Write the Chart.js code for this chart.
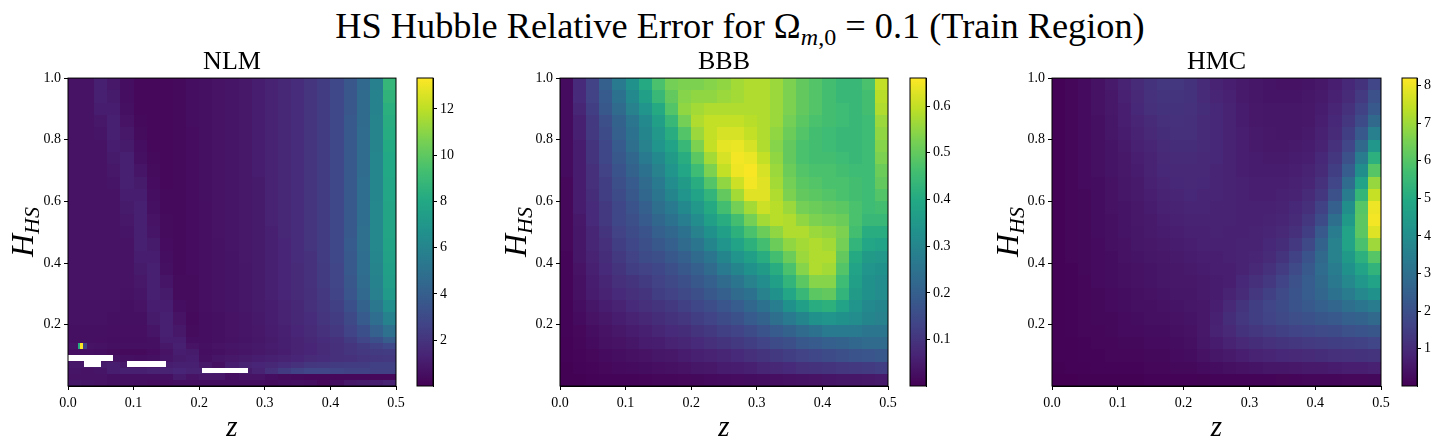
<!DOCTYPE html>
<html>
<head>
<meta charset="utf-8">
<script src="https://cdn.jsdelivr.net/npm/chart.js@4"></script>
<style>
  body { margin: 0; background: #fff; }
  #page { position: relative; width: 1443px; height: 448px; overflow: hidden; font-family: "Liberation Serif", serif; color: #000; }
  canvas { position: absolute; }
  #suptitle { position: absolute; left: 0; width: 1480px; top: 4px; text-align: center; font-size: 36.3px; line-height: 44px; white-space: nowrap; }
  #suptitle sub { font-size: 24px; line-height: 0; vertical-align: -7px; }
  .ylabel { position: absolute; top: 232px; font-size: 32px; line-height: 32px; font-style: italic; white-space: nowrap; transform: translate(-50%, -50%) rotate(-90deg); }
  .ylabel sub { font-size: 22px; line-height: 0; vertical-align: -6px; }
</style>
</head>
<body>
<div id="page">
  <div id="suptitle">HS Hubble Relative Error for &Omega;<sub><i>m</i>,0</sub> = 0.1 (Train Region)</div>
  <canvas id="nlm-map"></canvas><canvas id="nlm-bar"></canvas>
  <canvas id="bbb-map"></canvas><canvas id="bbb-bar"></canvas>
  <canvas id="hmc-map"></canvas><canvas id="hmc-bar"></canvas>
  <div class="ylabel" style="left:22px"><span>H</span><sub>HS</sub></div>
  <div class="ylabel" style="left:515px"><span>H</span><sub>HS</sub></div>
  <div class="ylabel" style="left:1007px"><span>H</span><sub>HS</sub></div>
</div>
<script>
// Axis ticks
var zTicks = [0.0, 0.1, 0.2, 0.3, 0.4, 0.5];
var hTicks = [0.2, 0.4, 0.6, 0.8, 1.0];
var nlmBarTicks = [2, 4, 6, 8, 10, 12];
var bbbBarTicks = [0.1, 0.2, 0.3, 0.4, 0.5, 0.6];
var hmcBarTicks = [1, 2, 3, 4, 5, 6, 7, 8];

// Cell edges in data units
var zEdges = [0, .02, .04, .06, .08, .10, .12, .14, .16, .18, .20, .22, .24, .26, .28, .30, .32, .34, .36, .38, .40, .42, .44, .46, .48, .50];
var hEdges = [0, .04, .08, .12, .16, .20, .24, .28, .32, .36, .40, .44, .48, .52, .56, .60, .64, .68, .72, .76, .80, .84, .88, .92, .96, 1];
var nlmEdges = [0, .02, .04, .06, .08, .10, .12, .14, .16, .20, .24, .28, .32, .36, .40, .44, .48, .52, .56, .60, .64, .68, .72, .76, .80, .84, .88, .92, .96, 1];

// NLM error, rows listed from the top of the plot down
var nlmValues = [
  [.7,.7,1.2,.9,.5,.3,.3,.3,.35,.5,.6,.7,.8,.9,1.1,1.3,1.5,1.7,2.0,2.4,2.9,3.6,4.5,5.8,8.8],
  [.7,.7,1.2,1.0,.5,.3,.3,.3,.35,.5,.6,.7,.8,.9,1.1,1.3,1.5,1.7,2.0,2.4,2.9,3.6,4.6,5.9,8.6],
  [.7,.7,1.1,1.1,.6,.3,.3,.3,.35,.5,.6,.7,.8,.9,1.1,1.3,1.5,1.7,2.0,2.4,2.9,3.6,4.6,5.9,8.4],
  [.7,.7,.9,1.2,.7,.35,.3,.3,.35,.5,.6,.7,.8,.9,1.1,1.3,1.5,1.7,2.0,2.4,2.9,3.7,4.6,6.0,8.3],
  [.7,.7,.8,1.2,.9,.4,.3,.3,.35,.45,.6,.7,.8,.9,1.1,1.3,1.5,1.7,2.0,2.4,2.9,3.7,4.7,6.0,8.2],
  [.7,.7,.7,1.1,1.0,.5,.3,.3,.35,.45,.6,.7,.8,.9,1.1,1.3,1.5,1.7,2.0,2.4,2.9,3.7,4.7,6.0,8.1],
  [.7,.7,.7,1.0,1.2,.6,.35,.3,.35,.45,.6,.7,.8,.9,1.1,1.3,1.5,1.7,2.0,2.4,2.9,3.7,4.7,6.1,8.0],
  [.7,.7,.7,.9,1.2,.8,.4,.3,.35,.45,.6,.7,.8,.9,1.1,1.3,1.5,1.7,2.0,2.4,2.9,3.7,4.7,6.1,8.0],
  [.7,.7,.7,.8,1.2,1.0,.45,.3,.35,.45,.6,.7,.8,.9,1.0,1.3,1.5,1.7,2.0,2.4,2.9,3.7,4.8,6.1,7.9],
  [.7,.7,.7,.7,1.1,1.1,.5,.35,.35,.45,.6,.7,.8,.9,1.0,1.3,1.5,1.7,2.0,2.4,2.9,3.7,4.8,6.1,7.9],
  [.7,.7,.7,.7,1.0,1.2,.6,.35,.35,.45,.55,.7,.8,.9,1.0,1.3,1.5,1.7,2.0,2.4,2.9,3.7,4.8,6.2,7.8],
  [.7,.7,.7,.7,.9,1.2,.7,.4,.35,.45,.55,.7,.8,.9,1.0,1.3,1.5,1.7,2.0,2.4,2.9,3.7,4.8,6.2,7.8],
  [.7,.7,.7,.7,.8,1.2,.8,.4,.35,.45,.55,.7,.8,.9,1.0,1.2,1.5,1.7,2.0,2.4,2.9,3.7,4.9,6.2,7.8],
  [.7,.7,.7,.7,.7,1.2,1.0,.45,.35,.45,.55,.65,.8,.9,1.0,1.2,1.4,1.7,2.0,2.4,2.9,3.8,4.9,6.2,7.7],
  [.7,.7,.7,.7,.7,1.1,1.1,.5,.35,.45,.55,.65,.75,.9,1.0,1.2,1.4,1.7,1.9,2.4,2.9,3.7,4.8,6.1,7.6],
  [.7,.7,.7,.7,.7,1.0,1.2,.6,.35,.45,.55,.65,.75,.85,1.0,1.2,1.4,1.6,1.9,2.3,2.8,3.7,4.8,6.0,7.5],
  [.7,.7,.7,.7,.7,.9,1.2,.8,.4,.4,.55,.65,.75,.85,1.0,1.2,1.4,1.6,1.9,2.3,2.8,3.6,4.7,5.9,7.4],
  [.7,.7,.7,.7,.65,.8,1.2,1.0,.4,.4,.55,.65,.75,.85,1.0,1.2,1.4,1.6,1.8,2.2,2.7,3.5,4.5,5.7,7.2],
  [.65,.65,.65,.65,.6,.7,1.1,1.1,.5,.4,.55,.65,.75,.85,1.0,1.1,1.3,1.5,1.8,2.1,2.5,3.3,4.2,5.3,6.6],
  [.65,.65,.65,.6,.6,.6,1.0,1.2,.7,.35,.5,.6,.7,.8,.95,1.1,1.3,1.5,1.7,2.0,2.4,3.0,3.8,4.8,5.9],
  [.6,.6,.6,.55,.55,.55,.8,1.2,.9,.4,.5,.6,.7,.8,.9,1.05,1.2,1.4,1.6,1.9,2.2,2.7,3.3,4.1,5.0],
  [.6,.6,.55,.5,.5,.5,.6,1.1,1.1,.5,.5,.6,.65,.75,.85,1.0,1.15,1.3,1.5,1.7,1.9,2.3,2.8,3.3,3.9],
  [.7,.7,.65,.6,.6,.6,.6,.9,1.2,.7,.6,.7,.8,.85,.95,1.05,1.15,1.3,1.4,1.6,1.8,2.0,2.3,2.6,2.9],
  [.55,.55,.5,.4,.35,.35,.45,.7,1.1,1.0,.5,.6,.7,.8,.9,1.0,1.1,1.3,1.4,1.6,1.8,2.0,2.2,2.3,2.4],
  [.8,.8,.75,.65,.6,.5,.6,.8,1.0,1.1,.6,.8,.9,1.0,1.1,1.2,1.3,1.4,1.6,1.7,1.8,1.9,2.0,2.1,2.2],
  [.9,.9,1.0,1.1,.9,.8,.9,1.1,1.2,1.2,.9,.6,1.1,1.3,1.4,1.5,1.7,1.9,2.1,2.2,2.3,2.4,2.4,2.5,2.5],
  [.8,.7,.8,1.1,1.2,1.2,1.3,1.3,1.4,1.3,1.3,1.1,.5,1.0,1.3,1.8,2.3,2.6,2.8,2.8,2.7,2.6,2.6,2.5,2.5],
  [.7,.7,.7,.6,.6,.6,.6,.6,1.0,.7,.9,.9,.6,.7,.7,.5,.4,.35,.3,.3,.3,.3,.3,.3,.3],
  [.9,.8,.7,.6,.6,.5,.45,.45,.5,.5,.5,.5,.5,.5,.5,.4,.5,.6,.5,.3,.5,.9,1.0,1.1,1.3]
];

// Small extra cells in the NLM lower left: left edge, right edge, bottom, top, value
var nlmPatchZ0 = [.0145, .019, .0235];
var nlmPatchZ1 = [.019, .0235, .0285];
var nlmPatchH0 = [.12, .12, .12];
var nlmPatchH1 = [.14, .14, .14];
var nlmPatchV = [8.2, 13.3, 2.5];

// Undefined (white) stretches of the NLM map
var nlmGapZ0 = [0, .024, .09, .205];
var nlmGapZ1 = [.069, .05, .15, .275];
var nlmGapH0 = [.082, .062, .062, .042];
var nlmGapH1 = [.102, .082, .082, .06];

// BBB error, rows listed from the top of the plot down
var bbbValues = [
  [.02,.08,.13,.20,.27,.33,.40,.47,.52,.53,.53,.54,.55,.57,.58,.58,.56,.53,.50,.48,.46,.44,.44,.47,.60],
  [.02,.08,.13,.19,.25,.31,.37,.44,.50,.54,.55,.55,.56,.57,.58,.58,.56,.53,.50,.48,.46,.44,.44,.46,.59],
  [.02,.07,.12,.18,.23,.29,.34,.40,.48,.55,.57,.58,.58,.58,.58,.58,.56,.53,.50,.48,.46,.45,.44,.46,.58],
  [.02,.06,.11,.16,.21,.26,.31,.37,.44,.52,.58,.60,.60,.60,.59,.58,.56,.52,.49,.47,.46,.45,.44,.45,.56],
  [.02,.06,.11,.15,.20,.25,.30,.35,.41,.48,.56,.60,.62,.62,.60,.58,.55,.51,.48,.46,.45,.44,.44,.45,.55],
  [.02,.05,.10,.14,.19,.24,.29,.34,.38,.44,.53,.60,.635,.64,.62,.58,.54,.50,.47,.46,.45,.44,.44,.45,.54],
  [.02,.05,.10,.14,.18,.22,.27,.31,.36,.41,.49,.57,.62,.65,.64,.60,.55,.50,.47,.46,.46,.45,.44,.45,.53],
  [.02,.05,.09,.13,.17,.21,.25,.29,.34,.39,.45,.53,.60,.645,.655,.62,.56,.51,.48,.47,.47,.46,.45,.45,.51],
  [.015,.05,.09,.12,.16,.19,.23,.27,.32,.36,.41,.48,.55,.61,.65,.63,.57,.52,.49,.48,.47,.47,.46,.45,.50],
  [.015,.05,.085,.12,.15,.18,.22,.26,.30,.34,.38,.43,.50,.57,.63,.63,.58,.53,.50,.49,.48,.47,.46,.45,.48],
  [.015,.05,.08,.11,.14,.17,.20,.24,.27,.31,.35,.40,.46,.52,.57,.61,.59,.56,.52,.51,.50,.49,.47,.45,.46],
  [.015,.045,.08,.11,.14,.16,.19,.22,.25,.28,.32,.37,.41,.46,.52,.57,.59,.58,.55,.53,.52,.51,.47,.44,.44],
  [.015,.04,.07,.10,.13,.15,.17,.20,.22,.25,.29,.33,.37,.42,.47,.51,.55,.58,.58,.56,.55,.53,.46,.41,.41],
  [.015,.04,.07,.09,.12,.14,.16,.18,.20,.23,.26,.30,.34,.38,.42,.46,.51,.55,.57,.58,.57,.52,.43,.39,.38],
  [.01,.04,.065,.085,.11,.13,.15,.16,.18,.20,.23,.26,.30,.34,.37,.41,.46,.51,.56,.58,.58,.50,.40,.36,.35],
  [.01,.035,.06,.08,.10,.12,.13,.14,.16,.18,.20,.23,.27,.30,.33,.36,.41,.47,.54,.58,.57,.48,.38,.34,.33],
  [.01,.03,.055,.07,.09,.10,.115,.13,.145,.16,.18,.20,.23,.26,.29,.32,.37,.43,.49,.54,.54,.45,.37,.33,.32],
  [.01,.03,.05,.065,.08,.09,.10,.12,.13,.145,.16,.18,.20,.23,.25,.29,.33,.39,.44,.49,.50,.43,.36,.33,.32],
  [.008,.025,.04,.055,.065,.08,.09,.10,.11,.125,.14,.155,.175,.195,.22,.25,.28,.33,.37,.41,.42,.38,.34,.31,.30],
  [.008,.02,.035,.045,.055,.065,.075,.085,.095,.105,.12,.135,.15,.165,.19,.21,.24,.27,.30,.33,.34,.33,.32,.30,.29],
  [.006,.015,.025,.035,.045,.05,.06,.07,.08,.085,.10,.11,.125,.135,.15,.17,.19,.21,.23,.25,.27,.27,.27,.26,.26],
  [.005,.012,.02,.03,.035,.04,.05,.055,.065,.07,.08,.09,.10,.11,.12,.135,.15,.16,.18,.19,.20,.21,.22,.23,.23],
  [.004,.01,.015,.02,.025,.03,.035,.04,.045,.05,.06,.065,.07,.08,.09,.10,.11,.12,.13,.14,.15,.16,.17,.175,.18],
  [.003,.006,.01,.014,.018,.02,.024,.028,.03,.034,.04,.045,.05,.055,.06,.07,.075,.08,.09,.095,.10,.105,.11,.115,.12],
  [.002,.003,.004,.006,.007,.008,.01,.012,.013,.015,.016,.018,.02,.022,.024,.026,.028,.03,.033,.035,.038,.04,.042,.045,.048]
];

// HMC error, rows listed from the top of the plot down
var hmcValues = [
  [.05,.15,.25,.4,.6,.8,1.0,1.2,1.3,1.3,1.2,1.0,.8,.7,.6,.5,.45,.4,.4,.45,.55,.7,.9,1.2,1.7],
  [.05,.15,.25,.4,.55,.75,.95,1.15,1.25,1.25,1.2,1.0,.85,.75,.6,.5,.45,.45,.45,.5,.6,.75,1.0,1.4,2.0],
  [.05,.15,.25,.4,.55,.7,.9,1.1,1.2,1.2,1.15,1.05,.9,.8,.65,.55,.5,.5,.5,.55,.65,.85,1.15,1.6,2.3],
  [.05,.15,.25,.35,.5,.7,.85,1.0,1.1,1.15,1.1,1.0,.9,.8,.65,.55,.5,.5,.5,.55,.7,.9,1.3,1.9,2.8],
  [.05,.15,.25,.35,.5,.65,.8,.95,1.05,1.1,1.1,1.0,.9,.8,.7,.6,.55,.5,.5,.6,.75,1.0,1.5,2.3,3.5],
  [.05,.15,.25,.35,.45,.6,.75,.85,1.0,1.05,1.05,1.0,.9,.8,.7,.6,.55,.55,.6,.65,.8,1.15,1.7,2.8,4.3],
  [.05,.15,.25,.35,.45,.55,.7,.8,.95,1.0,1.0,.95,.9,.8,.7,.65,.6,.6,.65,.7,.9,1.3,2.0,3.4,5.2],
  [.05,.15,.25,.35,.45,.55,.65,.8,.9,.95,.95,.95,.85,.8,.7,.65,.65,.65,.7,.8,1.0,1.5,2.4,4.0,6.0],
  [.05,.15,.25,.3,.4,.5,.6,.75,.85,.9,.95,.9,.85,.8,.75,.7,.7,.7,.75,.85,1.15,1.7,2.9,4.7,6.9],
  [.05,.15,.2,.3,.4,.5,.6,.7,.8,.85,.9,.85,.85,.8,.75,.7,.7,.75,.8,1.0,1.3,2.0,3.4,5.4,7.5],
  [.05,.15,.2,.3,.4,.45,.55,.65,.75,.8,.85,.85,.8,.8,.75,.75,.75,.8,.9,1.1,1.6,2.5,4.0,6.0,8.0],
  [.05,.15,.2,.3,.35,.45,.55,.6,.7,.75,.8,.8,.8,.8,.75,.75,.8,.85,1.0,1.3,1.9,3.0,4.4,6.1,8.1],
  [.05,.15,.2,.3,.35,.45,.5,.6,.65,.7,.75,.75,.8,.75,.75,.8,.85,.95,1.1,1.5,2.3,3.4,4.7,6.1,7.8],
  [.05,.15,.2,.25,.35,.4,.5,.55,.6,.65,.7,.75,.75,.75,.8,.8,.9,1.05,1.35,1.8,2.6,3.6,4.7,5.8,7.0],
  [.05,.15,.2,.25,.3,.4,.45,.5,.55,.6,.65,.7,.7,.75,.8,.85,1.0,1.25,1.6,2.1,2.8,3.6,4.4,5.2,6.0],
  [.05,.1,.2,.25,.3,.35,.4,.45,.5,.55,.6,.65,.7,.7,.8,.95,1.15,1.45,1.85,2.3,2.9,3.4,4.1,4.7,5.3],
  [.05,.1,.15,.25,.3,.35,.4,.45,.5,.55,.55,.6,.65,.7,.9,1.1,1.35,1.65,2.0,2.4,2.8,3.3,3.8,4.3,4.7],
  [.05,.1,.15,.2,.25,.3,.35,.4,.45,.5,.5,.6,.65,.8,1.0,1.3,1.55,1.85,2.1,2.4,2.7,3.1,3.4,3.8,4.1],
  [.05,.1,.15,.2,.25,.3,.35,.35,.4,.45,.5,.55,.7,.95,1.25,1.5,1.7,1.9,2.1,2.3,2.5,2.7,3.0,3.2,3.4],
  [.05,.1,.15,.2,.2,.25,.3,.35,.35,.4,.45,.55,.75,1.05,1.3,1.5,1.65,1.8,1.95,2.05,2.2,2.3,2.5,2.6,2.8],
  [.05,.1,.15,.15,.2,.25,.25,.3,.3,.35,.4,.55,.8,.95,1.2,1.3,1.45,1.55,1.65,1.75,1.85,1.9,2.0,2.1,2.2],
  [.05,.05,.1,.15,.15,.2,.2,.25,.25,.3,.35,.5,.65,.8,.95,1.05,1.15,1.25,1.3,1.4,1.45,1.5,1.55,1.6,1.7],
  [.05,.05,.1,.1,.15,.15,.15,.2,.2,.25,.3,.4,.5,.6,.7,.8,.85,.9,.95,1.0,1.05,1.1,1.15,1.2,1.25],
  [.03,.05,.05,.1,.1,.1,.1,.15,.15,.2,.2,.25,.3,.35,.4,.45,.5,.5,.55,.6,.6,.65,.7,.7,.75],
  [.02,.02,.03,.03,.03,.04,.04,.05,.05,.06,.06,.07,.08,.09,.1,.1,.11,.12,.13,.14,.15,.16,.17,.18,.2]
];

// Colour bar ranges
var nlmRange = [0.02, 13.34];
var bbbRange = [0.001, 0.66];
var hmcRange = [0.01, 8.2];

// Viridis stops for the colour scale
var viridis = ['#440154', '#482475', '#414487', '#355f8d', '#2a788e', '#21918c', '#22a884', '#44bf70', '#7ad151', '#bddf26', '#fde725'];

var tickFont = { family: '"Liberation Serif", serif', size: 14 };

function colourAt(frac) {
    frac = Math.min(1, Math.max(0, frac));
    var pos = frac * (viridis.length - 1);
    var i = Math.min(Math.floor(pos), viridis.length - 2);
    var t = pos - i;
    var a = parseInt(viridis[i].slice(1), 16);
    var b = parseInt(viridis[i + 1].slice(1), 16);
    var r = Math.round((a >> 16) + ((b >> 16) - (a >> 16)) * t);
    var g = Math.round(((a >> 8) & 255) + (((b >> 8) & 255) - ((a >> 8) & 255)) * t);
    var bl = Math.round((a & 255) + ((b & 255) - (a & 255)) * t);
    return 'rgb(' + r + ',' + g + ',' + bl + ')';
}

// Turn a table of rows into one point per cell
function buildCells(values, rowEdges) {
    var cells = [];
    var n = values.length;
    for (var r = 0; r < n; r++) {
        for (var c = 0; c < values[r].length; c++) {
            cells.push({
                x: (zEdges[c] + zEdges[c + 1]) / 2,
                y: (rowEdges[n - 1 - r] + rowEdges[n - r]) / 2,
                z0: zEdges[c], z1: zEdges[c + 1],
                h0: rowEdges[n - 1 - r], h1: rowEdges[n - r],
                v: values[r][c]
            });
        }
    }
    return cells;
}

function addListedCells(cells, z0, z1, h0, h1, v) {
    for (var i = 0; i < z0.length; i++) {
        cells.push({
            x: (z0[i] + z1[i]) / 2, y: (h0[i] + h1[i]) / 2,
            z0: z0[i], z1: z1[i], h0: h0[i], h1: h1[i],
            v: v ? v[i] : null
        });
    }
}

// Paints each cell through the chart's own scales, then the frame
var heatPlugin = {
    id: 'heat',
    beforeDatasetsDraw: function(chart) {
        var ds = chart.data.datasets[0];
        var x = chart.scales.x, y = chart.scales.y, ctx = chart.ctx;
        ds.data.forEach(function(cell) {
            var left = Math.round(x.getPixelForValue(cell.z0));
            var right = Math.round(x.getPixelForValue(cell.z1));
            var top = Math.round(y.getPixelForValue(cell.h1));
            var bottom = Math.round(y.getPixelForValue(cell.h0));
            ctx.fillStyle = cell.v === null ? '#fff' : colourAt((cell.v - ds.vmin) / (ds.vmax - ds.vmin));
            ctx.fillRect(left, top, right - left, bottom - top);
        });
    },
    afterDraw: function(chart) {
        var a = chart.chartArea, ctx = chart.ctx;
        ctx.strokeStyle = '#000';
        ctx.lineWidth = 1;
        ctx.strokeRect(a.left, a.top, a.right - a.left, a.bottom - a.top);
    }
};

function drawMap(id, box, title, cells, range) {
    var canvas = document.getElementById(id);
    var side = 68, top = 47;
    canvas.width = box.right - box.left + side * 2;
    canvas.height = 448 - top;
    canvas.style.left = (box.left - side) + 'px';
    canvas.style.top = top + 'px';
    new Chart(canvas, {
        type: 'scatter',
        data: { datasets: [{ data: cells, pointRadius: 0, vmin: range[0], vmax: range[1] }] },
        plugins: [heatPlugin],
        options: {
            responsive: false,
            animation: false,
            events: [],
            layout: { padding: 0 },
            plugins: {
                legend: { display: false },
                tooltip: { enabled: false },
                title: {
                    display: true,
                    text: title,
                    color: '#000',
                    font: { family: '"Liberation Serif", serif', size: 26, weight: 'normal', lineHeight: 1.08 },
                    padding: { top: 1, bottom: 2 }
                }
            },
            scales: {
                x: {
                    type: 'linear', min: 0, max: 0.5,
                    afterBuildTicks: function(scale) { scale.ticks = zTicks.map(function(v) { return { value: v }; }); },
                    afterFit: function(scale) { scale.height = 448 - 386; },
                    grid: { drawOnChartArea: false, color: '#000', tickLength: 4 },
                    border: { color: '#000' },
                    ticks: { color: '#000', font: tickFont, maxRotation: 0, padding: 5, callback: function(v) { return v.toFixed(1); } },
                    title: { display: true, text: 'z', color: '#000', font: { family: '"Liberation Serif", serif', size: 29, style: 'italic' }, padding: { top: 0, bottom: 2 } }
                },
                y: {
                    type: 'linear', min: 0.001, max: 1,
                    afterBuildTicks: function(scale) { scale.ticks = hTicks.map(function(v) { return { value: v }; }); },
                    afterFit: function(scale) { scale.width = side; },
                    grid: { drawOnChartArea: false, color: '#000', tickLength: 4 },
                    border: { color: '#000' },
                    ticks: { color: '#000', font: tickFont, padding: 3, callback: function(v) { return v.toFixed(1); } }
                },
                // Empty axis that balances the left one so the panel title sits over the plot
                spacer: {
                    type: 'linear', position: 'right',
                    afterFit: function(scale) { scale.width = side; },
                    grid: { display: false },
                    border: { display: false },
                    ticks: { display: false }
                }
            }
        }
    });
}

function drawBar(id, box, ticks, range, digits) {
    var canvas = document.getElementById(id);
    var top = 60;
    canvas.width = box.right - box.left + 34;
    canvas.height = 350;
    canvas.style.left = box.left + 'px';
    canvas.style.top = top + 'px';
    new Chart(canvas, {
        type: 'bar',
        data: {
            labels: [''],
            datasets: [{
                data: [[range[0], range[1]]],
                barPercentage: 1,
                categoryPercentage: 1,
                backgroundColor: function(ctx) {
                    var a = ctx.chart.chartArea;
                    if (!a) return viridis[0];
                    var grad = ctx.chart.ctx.createLinearGradient(0, a.bottom, 0, a.top);
                    viridis.forEach(function(col, i) { grad.addColorStop(i / (viridis.length - 1), col); });
                    return grad;
                }
            }]
        },
        plugins: [{
            id: 'frame',
            afterDraw: function(chart) {
                var a = chart.chartArea, ctx = chart.ctx;
                ctx.strokeStyle = '#000';
                ctx.lineWidth = 1;
                ctx.strokeRect(a.left, a.top, a.right - a.left, a.bottom - a.top);
            }
        }],
        options: {
            responsive: false,
            animation: false,
            events: [],
            layout: { padding: { left: 1, right: 0, top: 18, bottom: 24 } },
            plugins: { legend: { display: false }, tooltip: { enabled: false } },
            scales: {
                x: { display: false },
                y: {
                    position: 'right',
                    min: range[0], max: range[1],
                    afterBuildTicks: function(scale) { scale.ticks = ticks.map(function(v) { return { value: v }; }); },
                    afterFit: function(scale) { scale.width = 33; },
                    grid: { drawOnChartArea: false, color: '#000', tickLength: 4 },
                    border: { color: '#000' },
                    ticks: { color: '#000', font: tickFont, padding: 3, callback: function(v) { return v.toFixed(digits); } }
                }
            }
        }
    });
}

var nlmCells = buildCells(nlmValues, nlmEdges);
addListedCells(nlmCells, nlmPatchZ0, nlmPatchZ1, nlmPatchH0, nlmPatchH1, nlmPatchV);
addListedCells(nlmCells, nlmGapZ0, nlmGapZ1, nlmGapH0, nlmGapH1, null);

drawMap('nlm-map', { left: 68, right: 396 }, 'NLM', nlmCells, nlmRange);
drawMap('bbb-map', { left: 560, right: 888 }, 'BBB', buildCells(bbbValues, hEdges), bbbRange);
drawMap('hmc-map', { left: 1052, right: 1381 }, 'HMC', buildCells(hmcValues, hEdges), hmcRange);

drawBar('nlm-bar', { left: 416, right: 432 }, nlmBarTicks, nlmRange, 0);
drawBar('bbb-bar', { left: 909, right: 925 }, bbbBarTicks, bbbRange, 1);
drawBar('hmc-bar', { left: 1401, right: 1416 }, hmcBarTicks, hmcRange, 0);
</script>
</body>
</html>
